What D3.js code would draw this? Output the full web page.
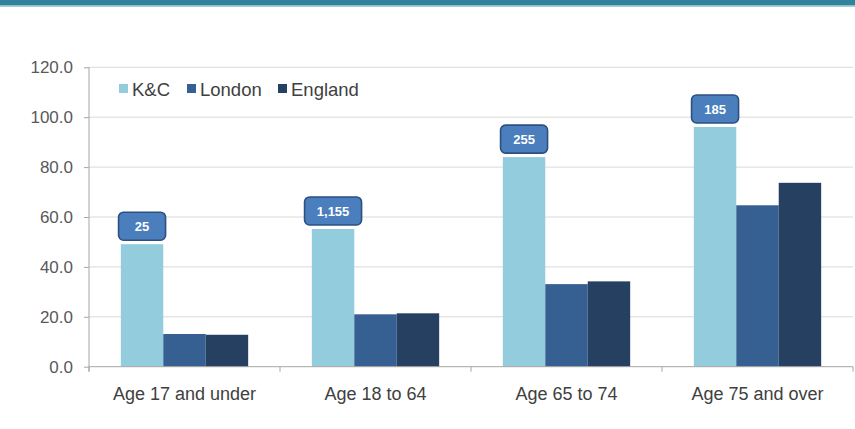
<!DOCTYPE html>
<html>
<head>
<meta charset="utf-8">
<script src="https://cdn.jsdelivr.net/npm/d3@7"></script>
<style>
  html, body { margin: 0; padding: 0; background: #fff; }
  svg { display: block; font-family: "Liberation Sans", Arial, sans-serif; }
</style>
</head>
<body>
<svg id="chart" width="855" height="429"></svg>
<script>
// Age bands and rates per series
const categories = ["Age 17 and under", "Age 18 to 64", "Age 65 to 74", "Age 75 and over"];
const seriesNames = ["K&C", "London", "England"];
const kcValues = [49.1, 55.2, 84.0, 96.1];
const londonValues = [13.1, 21.0, 33.1, 64.7];
const englandValues = [12.8, 21.4, 34.2, 73.7];
// Counts shown in callouts above the K&C bars
const kcCounts = ["25", "1,155", "255", "185"];
const yTicks = [0, 20, 40, 60, 80, 100, 120];

const colors = ["#93cddd", "#376092", "#254061"];
const seriesValues = [kcValues, londonValues, englandValues];

const svg = d3.select("#chart");
const W = 855, H = 429;
const margin = { top: 67.3, right: 2, bottom: 62.3, left: 89 };
const innerW = W - margin.left - margin.right;
const innerH = H - margin.top - margin.bottom;

// Header band
svg.append("rect").attr("x", 0).attr("y", 0).attr("width", W).attr("height", 5.5).attr("fill", "#31839b");
svg.append("rect").attr("x", 0).attr("y", 5.5).attr("width", W).attr("height", 1.2).attr("fill", "#86b9c9");

const g = svg.append("g").attr("transform", `translate(${margin.left},${margin.top})`);

const x0 = d3.scaleBand().domain(categories).range([0, innerW]).paddingInner(0).paddingOuter(0);
// three bars per group, with 1.5 bar widths of gap split across both sides
const x1 = d3.scaleBand().domain(seriesNames).range([0, x0.bandwidth()]).paddingInner(0).paddingOuter(0.75);

const y = d3.scaleLinear().domain([0, 120]).range([innerH, 0]);

// Gridlines
g.append("g").selectAll("line").data(yTicks.filter(d => d > 0)).join("line")
  .attr("x1", 0).attr("x2", innerW)
  .attr("y1", d => y(d)).attr("y2", d => y(d))
  .attr("stroke", "#d9d9d9").attr("stroke-width", 1);

// Y axis
const yAxis = d3.axisLeft(y).tickValues(yTicks).tickFormat(d3.format(".1f")).tickSize(5).tickPadding(11);
const yg = g.append("g").call(yAxis);
yg.select(".domain").attr("stroke", "#a6a6a6").attr("d", `M0,${innerH + 5}V0`);
yg.selectAll(".tick line").attr("stroke", "#a6a6a6");
yg.selectAll(".tick text").attr("fill", "#595959").style("font-size", "17px");

// Bars
const groups = g.append("g").selectAll("g").data(categories).join("g")
  .attr("transform", d => `translate(${x0(d)},0)`);
groups.selectAll("rect").data((d, i) => seriesNames.map((s, j) => ({ s, v: seriesValues[j][i], j })))
  .join("rect")
  .attr("x", d => x1(d.s))
  .attr("width", x1.bandwidth())
  .attr("y", d => y(d.v))
  .attr("height", d => innerH - y(d.v))
  .attr("fill", d => colors[d.j]);

// X axis
const xAxis = d3.axisBottom(x0).tickSize(0).tickPadding(21);
const xg = g.append("g").attr("transform", `translate(0,${innerH})`).call(xAxis);
xg.select(".domain").attr("stroke", "#a6a6a6").attr("d", `M0,0H${innerW}`);
xg.selectAll(".tick text").attr("fill", "#404040").style("font-size", "18px");
// category boundary ticks
xg.append("g").selectAll("line").data(d3.range(categories.length + 1)).join("line")
  .attr("x1", i => i * x0.step()).attr("x2", i => i * x0.step())
  .attr("y1", 0).attr("y2", 5)
  .attr("stroke", "#a6a6a6");

// Callouts with counts
const callouts = g.append("g").selectAll("g").data(categories).join("g")
  .attr("transform", (d, i) => `translate(${x0(d) + x1("K&C") + x1.bandwidth() / 2},${y(kcValues[i]) - 3})`);
callouts.each(function (d, i) {
  const sel = d3.select(this);
  const t = kcCounts[i];
  const bw = t.length > 3 ? 57 : 47;
  sel.append("rect")
    .attr("x", -bw / 2).attr("y", -29).attr("width", bw).attr("height", 28)
    .attr("rx", 5).attr("ry", 5)
    .attr("fill", "#4a7ebd").attr("stroke", "#2c5080").attr("stroke-width", 1.6);
  sel.append("text")
    .attr("x", 0).attr("y", -14.5)
    .attr("text-anchor", "middle").attr("dominant-baseline", "central")
    .attr("fill", "#fff").style("font-size", "13px").style("font-weight", "bold")
    .text(t);
});

// Legend
const legendX = [119, 187, 278];
const legend = svg.append("g").selectAll("g").data(seriesNames).join("g")
  .attr("transform", (d, i) => `translate(${legendX[i]},89)`);
legend.append("rect").attr("x", 0).attr("y", -5).attr("width", 9).attr("height", 9)
  .attr("fill", (d, i) => colors[i]);
legend.append("text").attr("x", 13).attr("y", 0).attr("dominant-baseline", "central")
  .attr("fill", "#404040").style("font-size", "18.5px").text(d => d);
</script>
</body>
</html>
